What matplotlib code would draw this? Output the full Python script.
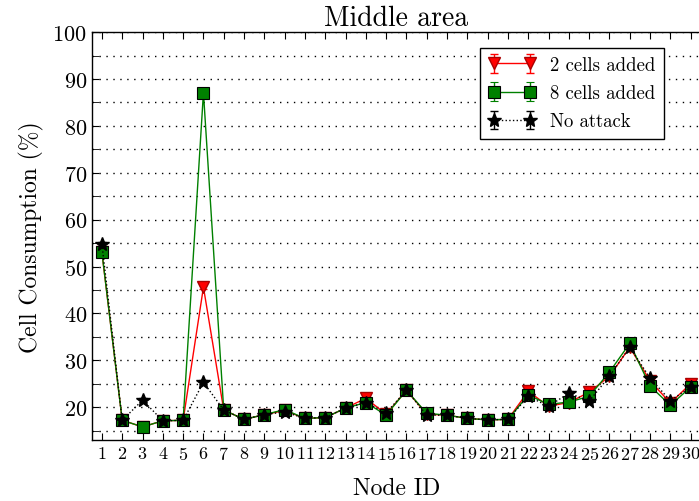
import matplotlib
matplotlib.use("Agg")
import matplotlib.pyplot as plt
import numpy as np

plt.rcParams['font.family'] = ['cmr10', 'DejaVu Serif']
plt.rcParams['mathtext.fontset'] = 'cm'
plt.rcParams['axes.formatter.use_mathtext'] = True

nodes = list(range(1, 31))
two_cells = [53.0, 17.2, 15.8, 17.1, 17.2, 45.6, 19.4, 17.4, 18.4, 19.3,
             17.6, 17.8, 19.8, 21.9, 18.5, 23.6, 18.5, 18.3, 17.6, 17.3,
             17.4, 23.4, 20.2, 21.0, 23.2, 26.6, 32.8, 25.6, 20.9, 25.0]
eight_cells = [53.0, 17.2, 15.8, 17.1, 17.2, 87.1, 19.4, 17.4, 18.4, 19.5,
               17.6, 17.8, 19.8, 21.0, 18.3, 23.6, 18.7, 18.3, 17.6, 17.3,
               17.4, 22.6, 20.6, 21.1, 22.3, 27.5, 33.6, 24.5, 20.4, 24.3]
no_attack = [54.8, 17.2, 21.5, 17.1, 17.2, 25.3, 19.4, 17.4, 18.4, 19.0,
             17.6, 17.8, 19.8, 21.0, 18.8, 23.6, 18.3, 18.3, 17.6, 17.3,
             17.4, 22.3, 20.2, 23.0, 21.3, 26.6, 32.8, 26.2, 21.4, 24.3]
err_two = [0.4] * 30
err_eight = [0.5] * 30
err_none = [0.4] * 30

fig = plt.figure(figsize=(6.99, 5.02), dpi=100)
ax = fig.add_axes([0.1313, 0.1215, 0.8713, 0.8125])

ax.errorbar(nodes, two_cells, yerr=err_two, color='red', marker='v',
            markersize=9, markerfacecolor='red', markeredgecolor='#aa0000',
            lw=1.0, capsize=3, elinewidth=1.0, label='2 cells added', zorder=3)
ax.errorbar(nodes, eight_cells, yerr=err_eight, color='green', marker='s',
            markersize=9, markerfacecolor='green', markeredgecolor='black',
            markeredgewidth=0.8, lw=1.0, capsize=3, elinewidth=1.0,
            label='8 cells added', zorder=4)
ax.errorbar(nodes, no_attack, yerr=err_none, color='black', marker='*',
            markersize=10, ls=':', lw=1.0, capsize=3, elinewidth=1.0,
            label='No attack', zorder=5)

ax.set_xlim(0.5, 30.5)
ax.set_ylim(13, 100)
ax.set_xticks(nodes)
ax.set_yticks(np.arange(20, 101, 10))
ax.set_yticks(np.arange(15, 100, 5), minor=True)
ax.yaxis.grid(True, which='both', ls=(0, (1, 4)), color='black', lw=1.0)
ax.tick_params(axis='both', which='both', direction='in', top=True, right=False)
ax.tick_params(axis='both', which='major', length=5, labelsize=13)
ax.tick_params(axis='y', which='major', labelsize=16)
ax.tick_params(axis='y', which='minor', length=5)
for s in ax.spines.values():
    s.set_linewidth(1.0)

ax.set_title('Middle area', fontsize=20, pad=5)
ax.set_xlabel('Node ID', fontsize=17, labelpad=11)
ax.set_ylabel('Cell Consumption (%)', fontsize=17, labelpad=6)

leg = ax.legend(loc='upper right', bbox_to_anchor=(0.955, 0.985), numpoints=2,
                fontsize=13.5, fancybox=False, framealpha=1,
                edgecolor='black', borderpad=0.45, labelspacing=0.55,
                handlelength=2.5)
leg.get_frame().set_linewidth(1.0)

fig.savefig('out.png', dpi=100)
